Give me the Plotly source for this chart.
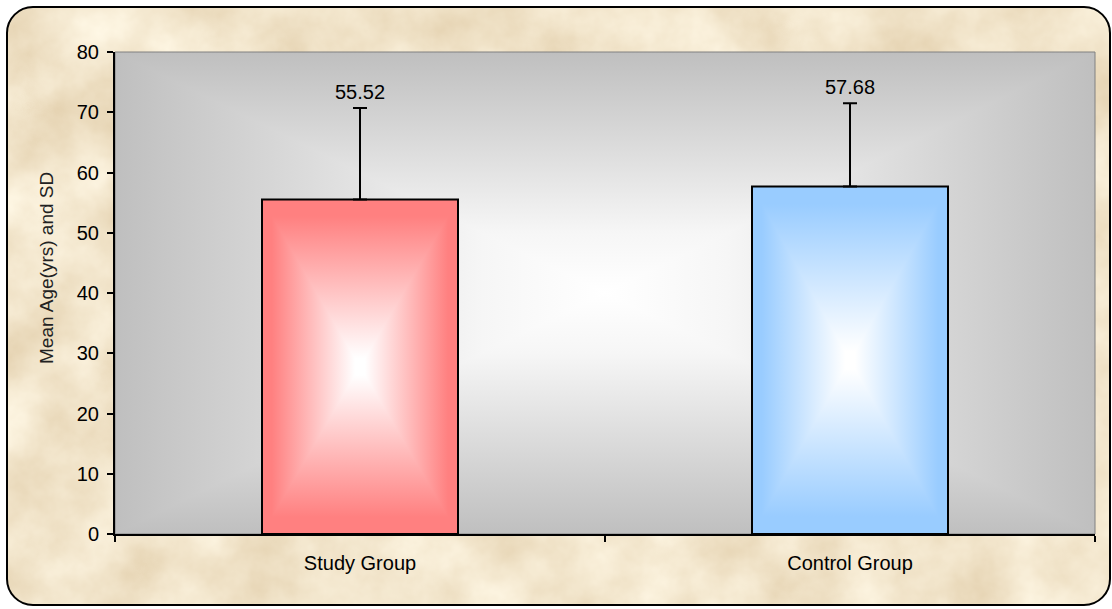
import base64
import plotly.graph_objects as go

# ---- data -------------------------------------------------------------
groups = ["Study Group", "Control Group"]
mean_age = [55.52, 57.68]
sd_age = [15.2, 13.8]
y_ticks = [0, 10, 20, 30, 40, 50, 60, 70, 80]

# ---- styling ----------------------------------------------------------
W, H = 1112, 609
M_L, M_R, M_T, M_B = 115, 17, 52, 75
PW, PH = W - M_L - M_R, H - M_T - M_B
BAR_W = 0.4
FONT = "Liberation Sans, Arial, sans-serif"
bar_edge_colors = ["#FF8080", "#99CCFF"]


def svg_uri(svg):
    return "data:image/svg+xml;base64," + base64.b64encode(svg.encode()).decode()


def rect_gradient(stops):
    """Rectangular 'from centre' gradient; stops run from the edge (0) to the centre (1)."""
    stop_xml = "".join(f'<stop offset="{o}" stop-color="{c}"/>' for o, c in stops)
    grads = {
        "t": (0, 0, 0, 50), "b": (0, 100, 0, 50),
        "l": (0, 0, 50, 0), "r": (100, 0, 50, 0),
    }
    polys = {
        "t": "0,0 100,0 50,50", "b": "0,100 100,100 50,50",
        "l": "0,0 0,100 50,50", "r": "100,0 100,100 50,50",
    }
    defs = "".join(
        f'<linearGradient id="g{k}" gradientUnits="userSpaceOnUse" '
        f'x1="{a}" y1="{b}" x2="{c}" y2="{d}">{stop_xml}</linearGradient>'
        for k, (a, b, c, d) in grads.items()
    )
    body = "".join(
        f'<polygon points="{p}" fill="url(#g{k})" shape-rendering="crispEdges"/>'
        for k, p in polys.items()
    )
    svg = (f'<svg xmlns="http://www.w3.org/2000/svg" width="400" height="400" '
           f'viewBox="0 0 100 100" preserveAspectRatio="none"><defs>{defs}</defs>{body}</svg>')
    return svg_uri(svg)


def parchment():
    svg = f'''<svg xmlns="http://www.w3.org/2000/svg" width="{W}" height="{H}" viewBox="0 0 {W} {H}">
<defs>
<filter id="p" x="0" y="0" width="100%" height="100%" color-interpolation-filters="sRGB">
<feTurbulence type="fractalNoise" baseFrequency="0.013" numOctaves="5" seed="11"/>
<feColorMatrix type="matrix" values="-0.14 0 0 0 1.02  -0.20 0 0 0 1.0  -0.28 0 0 0 0.94  0 0 0 0 1"/>
</filter>
<clipPath id="c"><rect x="7" y="7" width="1103" height="598" rx="26" ry="26"/></clipPath>
</defs>
<rect width="{W}" height="{H}" fill="#FFFFFF"/>
<g clip-path="url(#c)">
<rect width="{W}" height="{H}" fill="#F1E2C3"/>
<rect width="{W}" height="{H}" filter="url(#p)"/>
</g>
<rect x="7" y="7" width="1103" height="598" rx="26" ry="26" fill="none" stroke="#000" stroke-width="2"/>
</svg>'''
    return svg_uri(svg)


fig = go.Figure()

fig.add_trace(go.Bar(
    x=groups,
    y=mean_age,
    width=BAR_W,
    marker=dict(color="rgba(0,0,0,0)", line=dict(color="#000000", width=2)),
    error_y=dict(type="data", array=sd_age, arrayminus=[0] * len(sd_age),
                 symmetric=False, color="#000000", thickness=2, width=7),
    hoverinfo="x+y",
))

images = [
    # page background with rounded frame
    dict(source=parchment(), xref="paper", yref="paper",
         x=-M_L / PW, y=1 + M_T / PH, sizex=W / PW, sizey=H / PH,
         xanchor="left", yanchor="top", sizing="stretch", layer="below"),
    # plot area grey-to-white fill
    dict(source=rect_gradient([(0, "#BFBFBF"), (0.4, "#DCDCDC"), (0.75, "#F6F6F6"), (1, "#FFFFFF")]),
         xref="paper", yref="paper", x=0, y=1, sizex=1, sizey=1,
         xanchor="left", yanchor="top", sizing="stretch", layer="below"),
]
# gradient fill for each bar, placed on the data axes
for i, (m, col) in enumerate(zip(mean_age, bar_edge_colors)):
    images.append(dict(
        source=rect_gradient([(0, col), (0.1, col), (0.95, "#FFFFFF"), (1, "#FFFFFF")]),
        xref="x", yref="y",
        x=i - BAR_W / 2, y=m, sizex=BAR_W, sizey=m,
        xanchor="left", yanchor="top", sizing="stretch", layer="below"))

annotations = [
    dict(x=g, y=m + s, xref="x", yref="y", text=f"{m:.2f}", showarrow=False,
         yanchor="bottom", yshift=3, font=dict(size=20, color="#000000", family=FONT))
    for g, m, s in zip(groups, mean_age, sd_age)
]
annotations.append(dict(
    x=(46 - M_L) / PW, y=1 - (268 - M_T) / PH, xref="paper", yref="paper",
    text="Mean Age(yrs) and SD", textangle=-90, showarrow=False,
    xanchor="center", yanchor="middle",
    font=dict(size=19, color="#222222", family=FONT)))

fig.update_layout(
    width=W, height=H,
    margin=dict(l=M_L, r=M_R, t=M_T, b=M_B),
    paper_bgcolor="#FFFFFF",
    plot_bgcolor="rgba(0,0,0,0)",
    showlegend=False,
    images=images,
    annotations=annotations,
    shapes=[dict(type="rect", xref="paper", yref="paper", x0=0, x1=1, y0=0, y1=1,
                 line=dict(color="#808080", width=1), layer="below")],
    font=dict(family=FONT, color="#000000"),
    xaxis=dict(
        type="category", tickson="boundaries", ticks="outside", ticklen=6,
        tickwidth=2, tickcolor="#000000", showline=True, linecolor="#000000",
        linewidth=2, showgrid=False, zeroline=False,
        tickfont=dict(size=20, family=FONT), ticklabelstandoff=10,
    ),
    yaxis=dict(
        range=[0, 80], tickvals=y_ticks, ticks="outside", ticklen=6,
        tickwidth=2, tickcolor="#000000", showline=True, linecolor="#000000",
        linewidth=2, showgrid=False, zeroline=False,
        tickfont=dict(size=20, family=FONT), ticklabelstandoff=4,
    ),
)

fig.write_html("out.html")
